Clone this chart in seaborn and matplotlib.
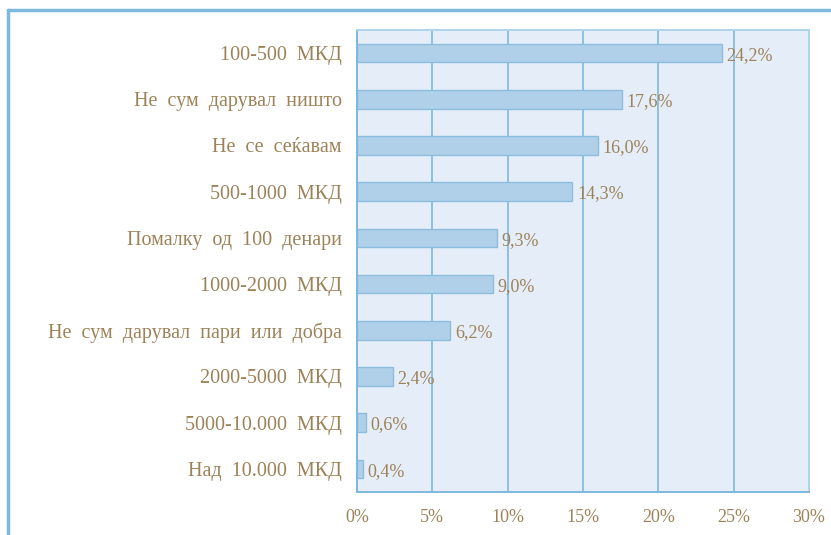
import numpy as np
import pandas as pd
import matplotlib
matplotlib.use("Agg")
import matplotlib.pyplot as plt
from matplotlib.lines import Line2D
from matplotlib.ticker import FixedLocator, FuncFormatter
import seaborn as sns

categories = ["100-500  МКД", "Не  сум  дарувал  ништо", "Не  се  сеќавам",
              "500-1000  МКД", "Помалку  од  100  денари", "1000-2000  МКД",
              "Не  сум  дарувал  пари  или  добра", "2000-5000  МКД",
              "5000-10.000  МКД", "Над  10.000  МКД"]
values = [24.2, 17.6, 16.0, 14.3, 9.3, 9.0, 6.2, 2.4, 0.6, 0.4]
xticks = [0, 5, 10, 15, 20, 25, 30]

df = pd.DataFrame({"category": categories, "value": values})

txt = "#9c8258"
blue = "#7db8de"
sns.set_style("white")
plt.rcParams["font.family"] = ["Liberation Serif", "DejaVu Serif"]

fig = plt.figure(figsize=(8.31, 5.35), dpi=100)
ax = fig.add_axes([357 / 831, 1 - 492 / 535, (809 - 357) / 831, (492 - 30) / 535])
ax.set_facecolor("#e5eef8")

sns.barplot(data=df, x="value", y="category", ax=ax, color="#afd0e8",
            edgecolor="#8cbddf", linewidth=1.0, width=0.4, saturation=1)

for i, v in enumerate(values):
    ax.text(v + 0.3, i + 0.05, f"{v:.1f}%".replace(".", ","), color=txt,
            fontsize=13, va="center", ha="left")

ax.set_xlim(0, 30)
ax.set_ylim(9.5, -0.5)
ax.xaxis.set_major_locator(FixedLocator(xticks))
ax.xaxis.set_major_formatter(FuncFormatter(lambda x, p: f"{x:.0f}%"))
ax.grid(axis="x", color=blue, linewidth=1.2)
ax.set_axisbelow(True)
ax.set_xlabel("")
ax.set_ylabel("")

ax.yaxis.set_minor_locator(FixedLocator(np.arange(-0.5, 10, 1)))
ax.tick_params(axis="y", which="major", length=0, pad=11, labelsize=14.5, labelcolor=txt)
ax.tick_params(axis="y", which="minor", length=7, color=blue, width=1.2)
ax.tick_params(axis="x", length=5, color=blue, width=1.2, labelsize=13,
               labelcolor=txt, pad=7)

for s in ["left", "bottom"]:
    ax.spines[s].set_color(blue)
    ax.spines[s].set_linewidth(1.4)
for s in ["top", "right"]:
    ax.spines[s].set_color("#b0d4ee")
    ax.spines[s].set_linewidth(1.4)

# outer frame lines on the left and top
fig.add_artist(Line2D([8 / 831, 8 / 831], [0, 1 - 10 / 535], color=blue, linewidth=2.5))
fig.add_artist(Line2D([8 / 831, 1], [1 - 10 / 535, 1 - 10 / 535], color=blue, linewidth=2.5))

fig.savefig("out.png", dpi=100)
